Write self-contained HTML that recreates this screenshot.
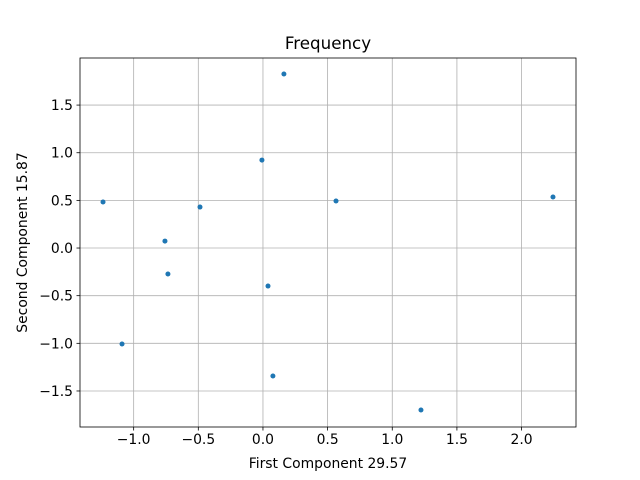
<!DOCTYPE html>
<html><head><meta charset="utf-8"><style>body{margin:0;background:#fff}svg{display:block}text{font-family:"DejaVu Sans","Liberation Sans",sans-serif;fill:#000}</style></head>
<body>
<svg id="chart" width="640" height="480"></svg>
<script>
const xValues=[-1.237,-1.09,-0.758,-0.735,-0.487,-0.008,0.039,0.077,0.162,0.565,1.222,2.243];
const yValues=[0.483,-1.007,0.073,-0.273,0.43,0.923,-0.399,-1.343,1.826,0.493,-1.70,0.535];
const xTicks=[-1.0,-0.5,0.0,0.5,1.0,1.5,2.0];
const yTicks=[-1.5,-1.0,-0.5,0.0,0.5,1.0,1.5];
const xMin=-1.415,xMax=2.421,yMin=-1.878,yMax=1.994;
const L=80,R=576,T=58,B=427;
const sx=v=>L+(v-xMin)/(xMax-xMin)*(R-L);
const sy=v=>B-(v-yMin)/(yMax-yMin)*(B-T);
const svg=document.getElementById('chart');
const NS='http://www.w3.org/2000/svg';
function mk(t,a,txt){const e=document.createElementNS(NS,t);for(const k in a)e.setAttribute(k,a[k]);if(txt!==undefined)e.textContent=txt;svg.appendChild(e);return e;}
const fmt=v=>v<0?'\u2212'+Math.abs(v).toFixed(1):v.toFixed(1);
xTicks.forEach(v=>{const x=sx(v);
const g=mk('line',{x1:x,x2:x,y1:T,y2:B,stroke:'#b0b0b0','stroke-width':0.8});


mk('line',{x1:x,x2:x,y1:B,y2:B+3.5,stroke:'#000','stroke-width':0.8});
const t=mk('text',{x:x,y:B+17,'text-anchor':'middle','font-size':'13.9'},fmt(v));

});
yTicks.forEach(v=>{const y=sy(v);
const g=mk('line',{x1:L,x2:R,y1:y,y2:y,stroke:'#b0b0b0','stroke-width':0.8});


mk('line',{x1:L-3.5,x2:L,y1:y,y2:y,stroke:'#000','stroke-width':0.8});
const t=mk('text',{x:L-7,y:y+5,'text-anchor':'end','font-size':'13.9'},fmt(v));

});
const fr=mk('rect',{x:L,y:T,width:R-L,height:B-T,fill:'none',stroke:'#000','stroke-width':0.8});


xValues.forEach((v,i)=>{const c=mk('circle',{cx:sx(v),cy:sy(yValues[i]),r:2.5,fill:'#1f77b4'});

});
const ti=mk('text',{x:(L+R)/2,y:T-9,'text-anchor':'middle','font-size':'16.7'},'Frequency');


const xl=mk('text',{x:(L+R)/2,y:468,'text-anchor':'middle','font-size':'13.9'},'First Component 29.57');


const yl=mk('text',{x:0,y:0,'text-anchor':'middle','font-size':'13.9',transform:'translate(27,'+((T+B)/2)+') rotate(-90)'},'Second Component 15.87');


</script>
</body></html>
